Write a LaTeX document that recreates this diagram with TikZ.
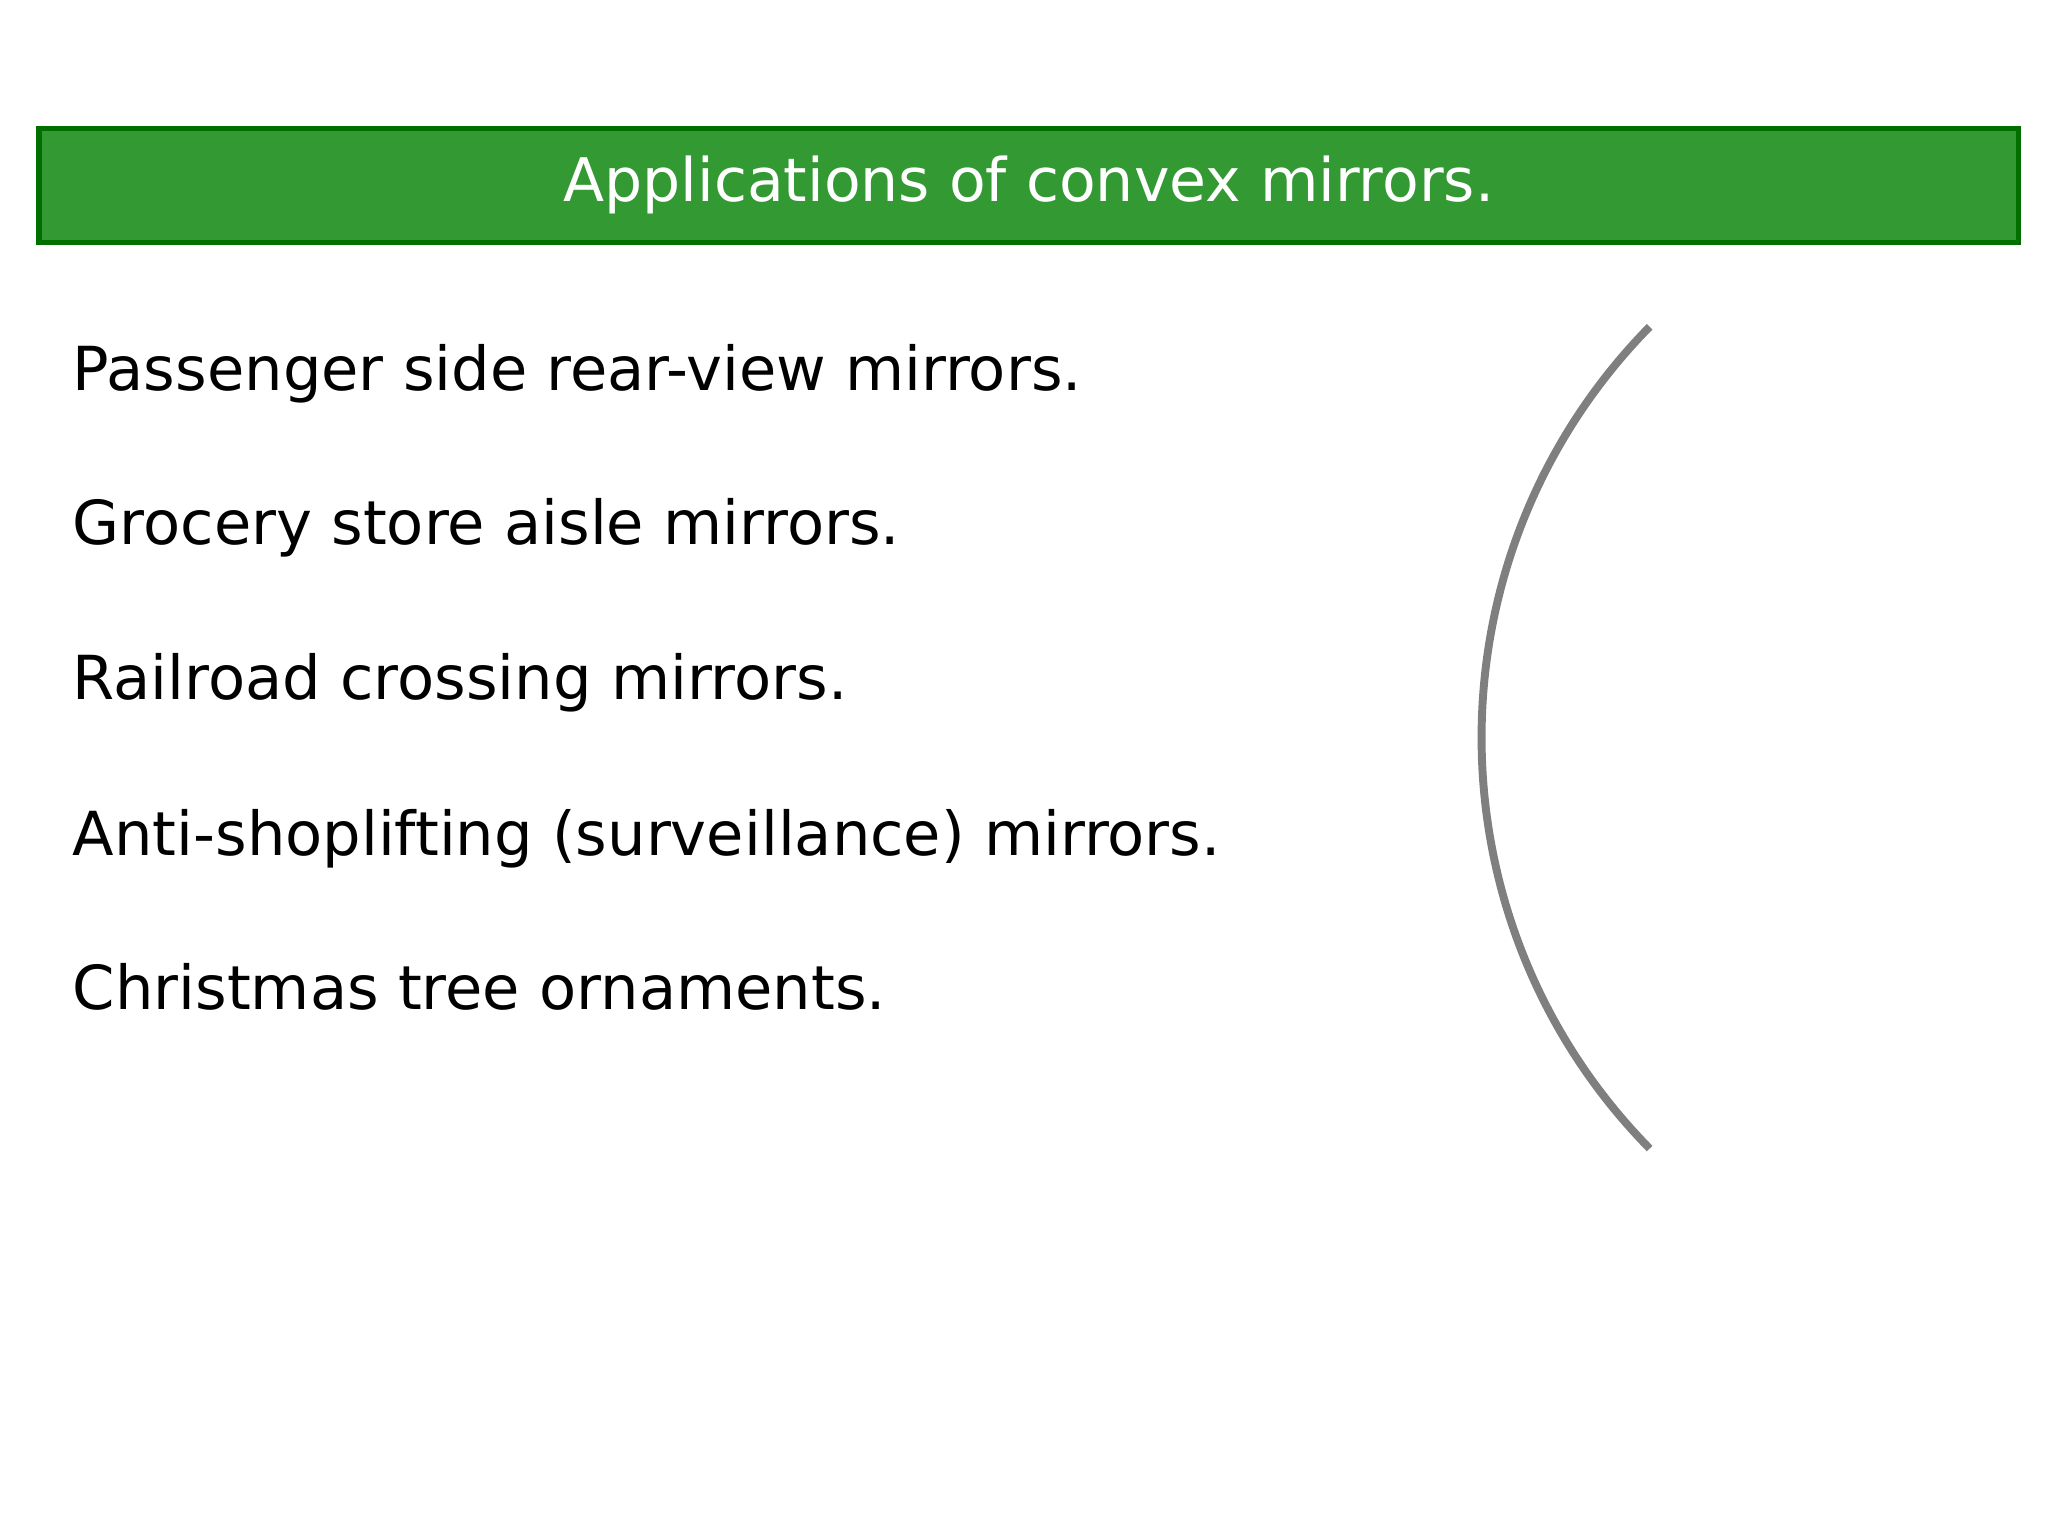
\documentclass[tikz,border=0pt]{standalone}
\usepackage{fontspec}
\setmainfont{DejaVu Sans}
\definecolor{bannerfill}{HTML}{339933}
\definecolor{bannerdraw}{HTML}{006F00}
\definecolor{mirrorgray}{HTML}{7F7F7F}
\begin{document}
\begin{tikzpicture}[x=1pt,y=-1pt,
  item/.style={anchor=base west,inner sep=0pt,font=\fontsize{46}{54}\selectfont}]
\useasboundingbox (0,0) rectangle (1552,1164);
\node[draw=bannerdraw,fill=bannerfill,line width=4pt,minimum width=1500pt,minimum height=86pt,inner sep=0pt,
  text=white,font=\fontsize{45.5}{54}\selectfont] (title) at (779.5,140.5) {Applications of convex mirrors.};
\node[item] (i1) at (55,296) {Passenger side rear-view mirrors.};
\node[item] (i2) at (55,413) {Grocery store aisle mirrors.};
\node[item] (i3) at (55,530) {Railroad crossing mirrors.};
\node[item] (i4) at (55,648) {Anti-shoplifting (surveillance) mirrors.};
\node[item] (i5) at (55,765) {Christmas tree ornaments.};
\coordinate (c) at (1567,559);
\draw[mirrorgray,line width=6pt] (c) ++(135.5:444.3) arc[start angle=135.5,end angle=224.5,radius=444.3];
\end{tikzpicture}
\end{document}
